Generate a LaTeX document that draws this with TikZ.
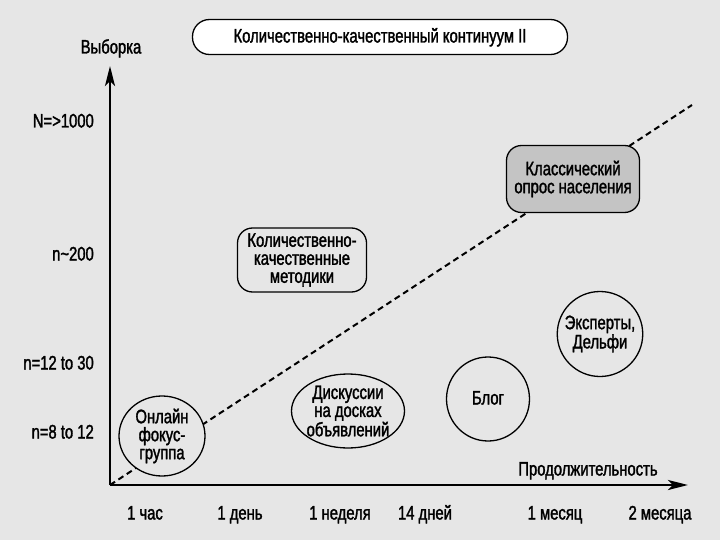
\documentclass[tikz,border=0pt]{standalone}
\usepackage{fontspec}
\setmainfont{Liberation Sans}[FakeStretch=0.76,FakeBold=1.6]
\usetikzlibrary{arrows.meta,shapes.geometric}
\definecolor{bg}{HTML}{E6E6E6}
\definecolor{boxgray}{HTML}{C4C4C4}
\tikzset{
  txt/.style={font=\fontsize{19.5}{18}\selectfont, align=center, inner sep=1pt},
  lbl/.style={txt, text height=14pt, text depth=3pt},
  blob/.style={txt, draw=black, line width=1.3pt, ellipse, fill=bg, inner sep=0pt},
  rbox/.style={txt, draw=black, line width=1.3pt, rounded corners=15pt},
  axis/.style={line width=2.6pt, -{Stealth[length=20pt,width=10pt,inset=5pt]}},
  trend/.style={line width=2pt, dash pattern=on 6pt off 4pt},
}
\begin{document}
\begin{tikzpicture}[x=1pt,y=-1pt]
\useasboundingbox[fill=bg] (0,0) rectangle (720,540);
% axes coordinates
\coordinate (O) at (110,485);
\coordinate (E) at (692,105);
\coordinate (ytip) at (110,66);
\coordinate (xtip) at (688,485);
% trend line
\draw[trend] (O) -- (E);
% axes
\draw[axis] (O) -- (ytip);
\draw[axis] (O) -- (xtip);
% title
\node[rbox, lbl, fill=white, minimum width=375pt, minimum height=35pt, rounded corners=17pt] (title) at (380,37) {Количественно-качественный континуум II};
% axis labels
\node[lbl] (ylab) at (111,48) {Выборка};
\node[lbl] (xlab) at (588,470) {Продолжительность};
% y ticks
\node[lbl, anchor=east] (y1) at (95,122) {N=>1000};
\node[lbl, anchor=east] (y2) at (95,255) {n\textasciitilde200};
\node[lbl, anchor=east] (y3) at (95,364) {n=12 to 30};
\node[lbl, anchor=east] (y4) at (95,433) {n=8 to 12};
% x ticks
\node[lbl] (x1) at (145,514) {1 час};
\node[lbl] (x2) at (240,514) {1 день};
\node[lbl] (x3) at (340,514) {1 неделя};
\node[lbl] (x4) at (425,514) {14 дней};
\node[lbl] (x5) at (555,514) {1 месяц};
\node[lbl] (x6) at (660,514) {2 месяца};
% items
\node[blob, minimum width=86pt, minimum height=80pt] (focus) at (162,436) {Онлайн\\фокус-\\группа};
\node[blob, inner xsep=-4pt, minimum width=113pt, minimum height=74pt] (disc) at (348,411) {Дискуссии\\на досках\\объявлений};
\node[blob, lbl, minimum width=83pt, minimum height=84pt] (blog) at (488,399) {Блог};
\node[blob, inner xsep=-5pt, minimum width=85pt, minimum height=85pt] (exp) at (600,334) {Эксперты,\\Дельфи};
\node[rbox, fill=boxgray, minimum width=133pt, minimum height=67pt] (classic) at (573,179) {Классический\\опрос населения};
\node[rbox, minimum width=129pt, minimum height=64pt] (quant) at (302,260) {Количественно-\\качественные\\методики};
\end{tikzpicture}
\end{document}
